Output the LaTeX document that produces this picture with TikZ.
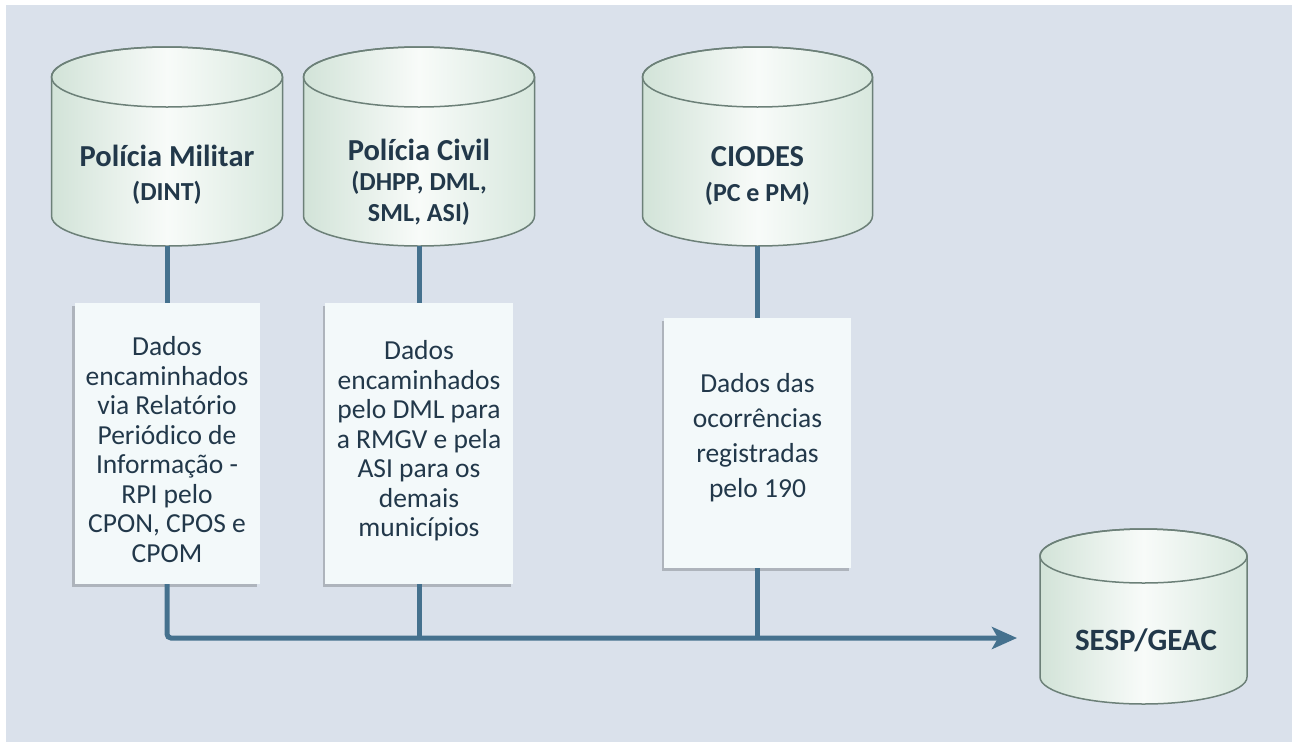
\documentclass[tikz,border=0pt]{standalone}
\usepackage{fontspec}
\setmainfont{Carlito}
\usetikzlibrary{arrows.meta,shadows}
\definecolor{bgc}{HTML}{DAE1EB}
\definecolor{linec}{HTML}{45718E}
\definecolor{txtc}{HTML}{22384A}
\definecolor{boxc}{HTML}{F3F9FA}
\definecolor{cylL}{HTML}{D2E3D8}
\definecolor{cylM}{HTML}{F8FBF9}
\definecolor{cylR}{HTML}{D8E8DE}
\definecolor{cylB}{HTML}{6C8078}
\tikzset{
  conn/.style={draw=linec, line width=5pt},
  cylbody/.style={left color=cylL, right color=cylR, middle color=cylM, draw=cylB, line width=1.5pt},
  cylrim/.style={draw=cylB, line width=1.5pt},
  cylholder/.style={inner sep=0pt, draw=none},
  infobox/.style={fill=boxc, draw=none, inner sep=0pt,
    drop shadow={shadow xshift=-2.5pt, shadow yshift=-3pt, fill=black, opacity=0.2}},
  boxtext/.style={align=center, text=txtc, font=\fontsize{27.5}{29.5}\selectfont, inner sep=0pt},
  cyltitle/.style={align=center, text=txtc, inner sep=0pt},
}
\newcommand\dbcyl[6]{% name, cx, top y, bottom y, rx, ry
  \path[cylbody] (#2-#5,#3) -- (#2-#5,#4)
    arc[start angle=180, end angle=360, x radius=#5pt, y radius=#6pt]
    -- (#2+#5,#3)
    arc[start angle=0, end angle=180, x radius=#5pt, y radius=#6pt] -- cycle;
  \path[cylrim] (#2,#3) ellipse[x radius=#5pt, y radius=#6pt];
  \node[cylholder, minimum width={2*#5*1pt}, minimum height={(#4-#3+2*#6)*1pt}] (#1) at (#2,{(#3+#4)/2}) {};
}
\begin{document}
\begin{tikzpicture}[x=1pt,y=-1pt]
\useasboundingbox (0,0) rectangle (1292,742);
\fill[white] (0,0) rectangle (1292,742);
\fill[bgc] (6,5) rectangle (1292,742);

% cylinders
\dbcyl{pm}{167}{77}{216}{115.5}{30}
\dbcyl{pc}{419}{77}{216}{115.5}{30}
\dbcyl{ciodes}{757.5}{77}{216}{115}{30}
\dbcyl{sesp}{1143.5}{556}{677}{103.5}{27}

\node[cyltitle, font=\bfseries\fontsize{26}{34}\selectfont] (pmT) at (167,174.5) {{\fontsize{30.5}{34}\selectfont Polícia Militar}\\(DINT)};
\node[cyltitle, font=\bfseries\fontsize{26}{30.5}\selectfont] (pcT) at (419,182) {{\fontsize{30.5}{30.5}\selectfont Polícia Civil}\\(DHPP, DML,\\SML, ASI)};
\node[cyltitle, font=\bfseries\fontsize{26}{35}\selectfont] (ciT) at (757.5,176) {{\fontsize{30.5}{35}\selectfont CIODES}\\(PC e PM)};
\node[cyltitle, font=\bfseries\fontsize{31}{32}\selectfont] (seT) at (1146,640) {SESP/GEAC};

% info boxes
\node[infobox, minimum width=185pt, minimum height=281pt] (box1) at (167,443.5) {};
\node[infobox, minimum width=188pt, minimum height=281pt] (box2) at (419,443.5) {};
\node[infobox, minimum width=187pt, minimum height=250pt] (box3) at (757.5,443) {};

\node[boxtext] (t1) at (167,449.5) {Dados\\encaminhados\\via Relatório\\Periódico de\\Informação -\\RPI pelo\\CPON, CPOS e\\CPOM};
\node[boxtext] (t2) at (419,441) {Dados\\encaminhados\\pelo DML para\\a RMGV e pela\\ASI para os\\demais\\municípios};
\node[boxtext, font=\fontsize{27.5}{35}\selectfont] (t3) at (757.5,438) {Dados das\\ocorrências\\registradas\\pelo 190};

% connectors
\coordinate (tip) at (1017,638);
\draw[conn] (pm.south) -- (box1.north);
\draw[conn] (pc.south) -- (box2.north);
\draw[conn] (ciodes.south) -- (box3.north);
\draw[conn, rounded corners=4pt, -{Stealth[length=25pt, width=22pt, inset=6pt]}] (box1.south) |- (tip);
\draw[conn] (box2.south) -- (box2.south |- tip);
\draw[conn] (box3.south) -- (box3.south |- tip);
\end{tikzpicture}
\end{document}
